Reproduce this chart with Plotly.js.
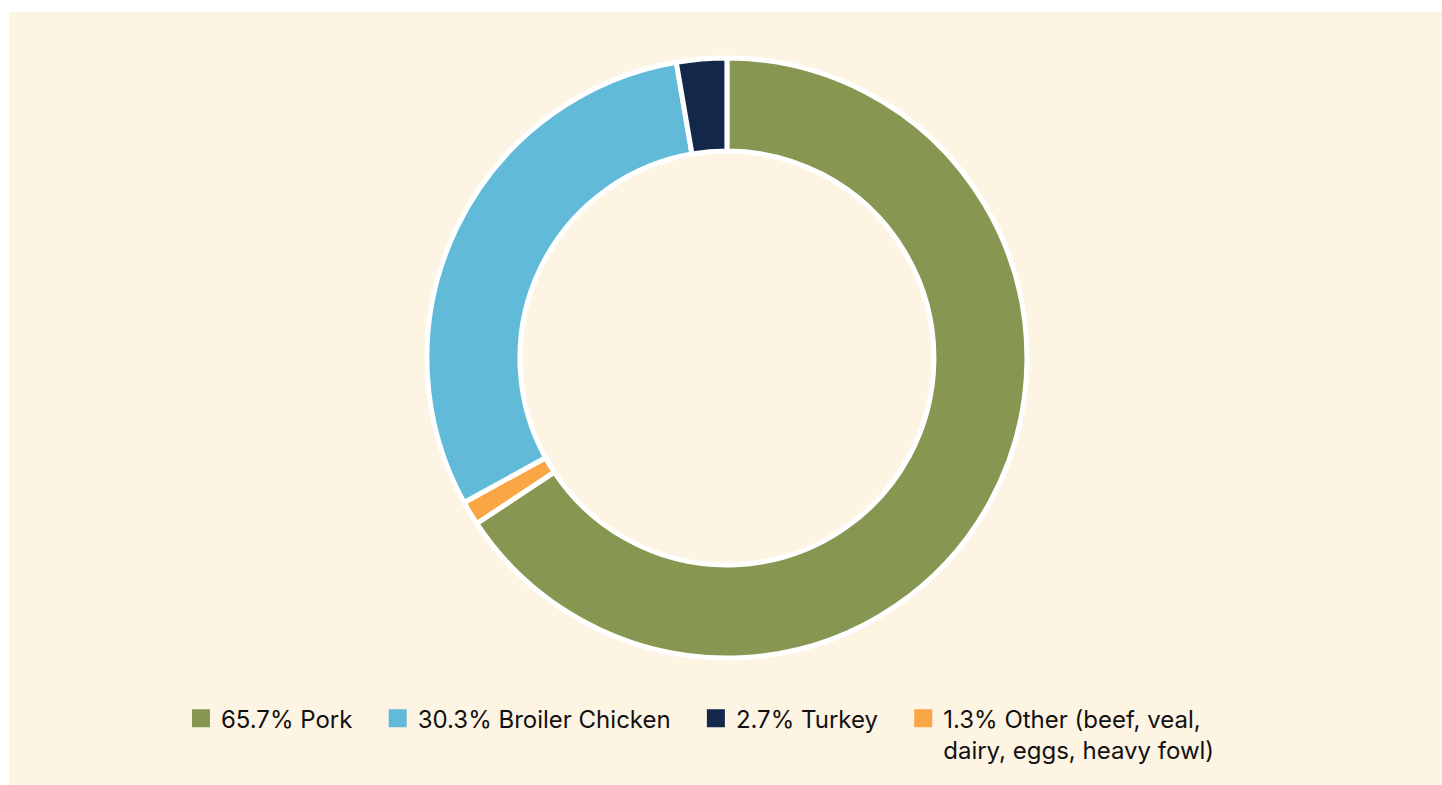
<!DOCTYPE html>
<html>
<head>
<meta charset="utf-8">
<script src="https://cdn.plot.ly/plotly-3.0.1.min.js"></script>
<style>
  html, body { margin: 0; padding: 0; background: #ffffff; }
  #chart { position: absolute; left: 9px; top: 12px; width: 1433px; height: 773px; }
</style>
</head>
<body>
<div id="chart"></div>
<script>
// Slices in clockwise order starting at 12 o'clock
const sliceLabels = ["Pork", "Other (beef, veal, dairy, eggs, heavy fowl)", "Broiler Chicken", "Turkey"];
const sliceValues = [65.7, 1.3, 30.3, 2.7];
const sliceColors = ["#879650", "#FBA645", "#61BAD8", "#13274A"];

// Legend order as shown in the reference
const legendLabels = ["65.7% Pork", "30.3% Broiler Chicken", "2.7% Turkey", "1.3% Other (beef, veal,<br>dairy, eggs, heavy fowl)"];
const legendColors = ["#879650", "#61BAD8", "#13274A", "#FBA645"];

const cream = "#FEF4E4";
const pad = "\u00a0\u00a0\u00a0";

const traces = [{
  type: "pie",
  labels: sliceLabels,
  values: sliceValues,
  sort: false,
  direction: "clockwise",
  hole: 0.69,
  textinfo: "none",
  hoverinfo: "label+percent",
  showlegend: false,
  marker: { colors: sliceColors, line: { color: "#ffffff", width: 5 } },
  domain: { x: [0.002, 1], y: [0.1643, 0.9405] }
}];

legendLabels.forEach((name, i) => {
  traces.push({
    type: "scatter",
    mode: "markers",
    x: [null], y: [null],
    name: i < legendLabels.length - 1 ? name + pad : name,
    showlegend: true,
    hoverinfo: "skip",
    marker: { symbol: "square", size: 16, color: legendColors[i],
              line: { color: legendColors[i], width: 2 } }
  });
});

const layout = {
  width: 1433, height: 773,
  paper_bgcolor: cream,
  plot_bgcolor: cream,
  margin: { l: 0, r: 0, t: 0, b: 0 },
  font: { family: "Inter, Lato, sans-serif", size: 24, color: "#111111" },
  xaxis: { visible: false },
  yaxis: { visible: false },
  showlegend: true,
  legend: {
    orientation: "h",
    x: 0.12, xanchor: "left",
    y: 0.115, yanchor: "top",
    valign: "top",
    bgcolor: "rgba(0,0,0,0)",
    font: { family: "Inter, Lato, sans-serif", size: 24, color: "#111111" },
    itemclick: false, itemdoubleclick: false
  }
};

Plotly.newPlot("chart", traces, layout, { displayModeBar: false, staticPlot: true });
</script>
</body>
</html>
